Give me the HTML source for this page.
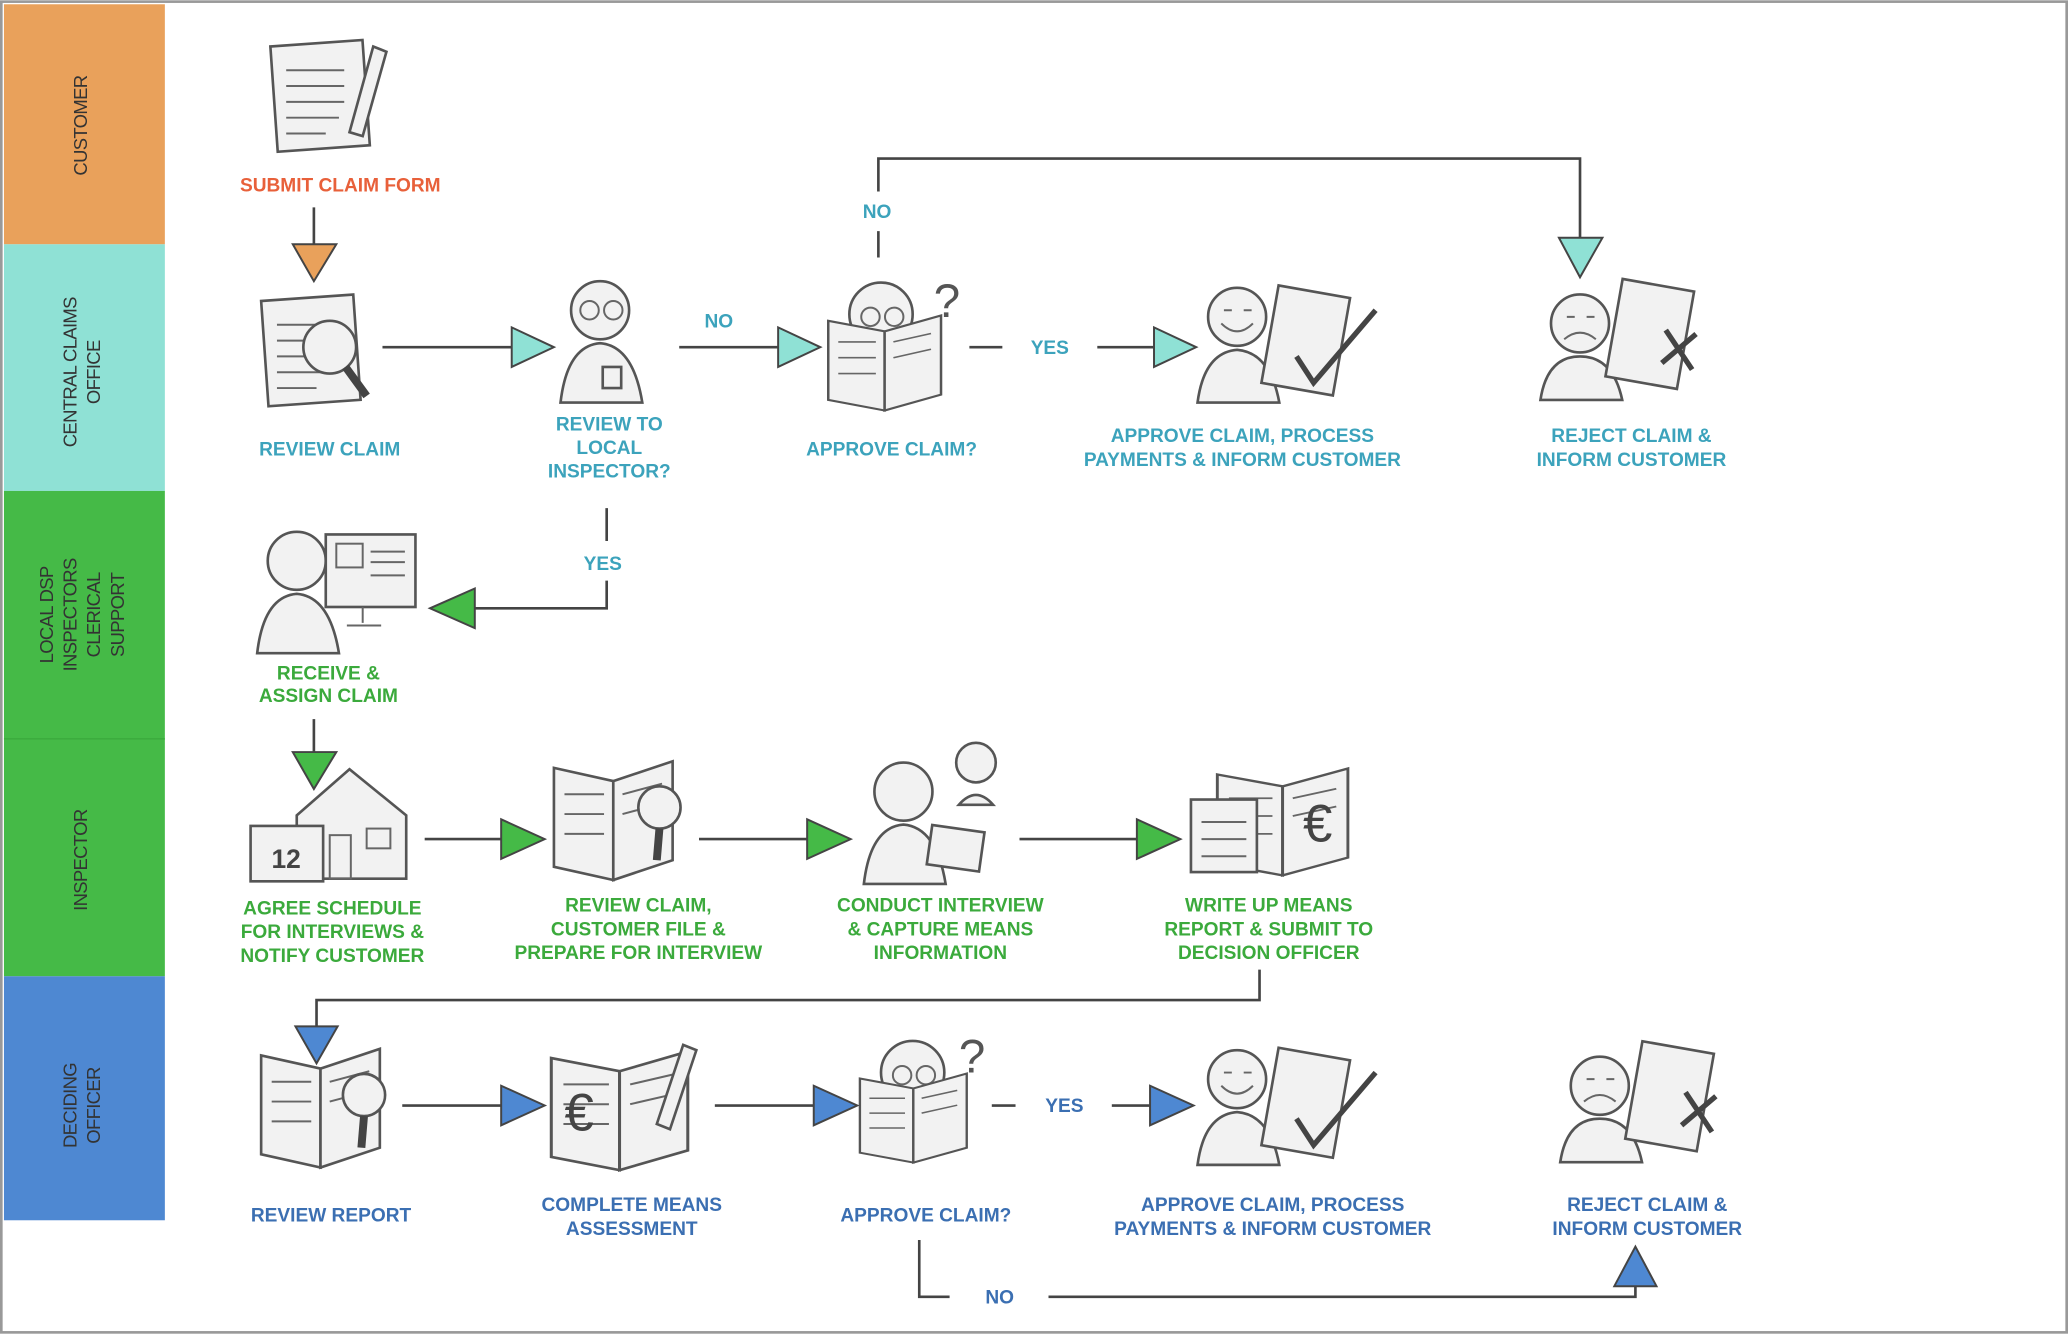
<!DOCTYPE html>
<html><head><meta charset="utf-8">
<style>
html,body{margin:0;padding:0;background:#fff;}
svg{display:block;}
text{font-family:"Liberation Sans",sans-serif;font-weight:bold;}
.t{font-size:14.5px;text-anchor:middle;}
.lane{font-size:14px;font-weight:normal;fill:#333;text-anchor:middle;letter-spacing:-0.5px;}
.ln{stroke:#444;stroke-width:2;fill:none;}
.ic{stroke:#555;stroke-width:2;fill:#f2f2f2;}
.icl{stroke:#666;stroke-width:1.5;fill:none;}
</style></head>
<body>
<svg width="2068" height="1334" viewBox="0 0 1568 1011" xmlns="http://www.w3.org/2000/svg">
<defs>
  <g id="doc"><rect class="ic" x="0" y="0" width="70" height="80" transform="rotate(-4)"/><path class="icl" d="M12 18h44M12 30h44M12 42h44M12 54h40M12 66h30"/></g>
  <g id="person"><circle class="ic" cx="30" cy="25" r="22"/><path class="ic" d="M0 95 Q5 52 30 50 Q55 52 62 95Z"/></g>
  <g id="glasses"><circle class="icl" cx="22" cy="25" r="7"/><circle class="icl" cx="40" cy="25" r="7"/></g>
  <g id="book"><path class="ic" d="M0 10 L45 20 L45 95 L0 85Z"/><path class="ic" d="M45 20 L90 5 L90 80 L45 95Z"/><path class="icl" d="M8 30h30M8 45h30M8 60h30M52 30l30-8M52 45l30-8"/></g>
  <g id="happy"><circle class="ic" cx="30" cy="25" r="22"/><path class="icl" d="M18 30 Q30 42 42 30M20 20h6M35 20h6"/><path class="ic" d="M0 90 Q5 52 30 50 Q55 52 62 90Z"/><rect class="ic" x="55" y="5" width="55" height="75" transform="rotate(10 80 40)"/><path d="M75 55 L88 75 L135 20" stroke="#444" stroke-width="4" fill="none"/></g>
  <g id="sad"><circle class="ic" cx="30" cy="30" r="22"/><path class="icl" d="M18 42 Q30 32 42 42M20 25h6M35 25h6"/><path class="ic" d="M0 88 Q5 55 30 55 Q55 55 62 88Z"/><rect class="ic" x="55" y="0" width="55" height="75" transform="rotate(10 80 40)"/><path d="M95 35 L115 65 M118 38 L92 60" stroke="#444" stroke-width="4"/></g>
</defs>

<rect x="1" y="1" width="1566" height="1009" fill="#fff" stroke="#999" stroke-width="2"/>

<!-- lanes -->
<g>
<rect x="3" y="3" width="122" height="182" fill="#E9A15B"/>
<rect x="3" y="185" width="122" height="187" fill="#8FE1D5"/>
<rect x="3" y="372" width="122" height="188" fill="#45BA47"/>
<rect x="3" y="560" width="122" height="180" fill="#45BA47"/>
<line x1="3" y1="560" x2="125" y2="560" stroke="#3aa83c" stroke-width="1"/>
<rect x="3" y="740" width="122" height="185" fill="#4E88D2"/>
<text class="lane" transform="translate(66,95) rotate(-90)">CUSTOMER</text>
<text class="lane" transform="translate(58,282) rotate(-90)">CENTRAL CLAIMS</text>
<text class="lane" transform="translate(76,282) rotate(-90)">OFFICE</text>
<text class="lane" transform="translate(40,466) rotate(-90)">LOCAL DSP</text>
<text class="lane" transform="translate(58,466) rotate(-90)">INSPECTORS</text>
<text class="lane" transform="translate(76,466) rotate(-90)">CLERICAL</text>
<text class="lane" transform="translate(94,466) rotate(-90)">SUPPORT</text>
<text class="lane" transform="translate(66,652) rotate(-90)">INSPECTOR</text>
<text class="lane" transform="translate(58,838) rotate(-90)">DECIDING</text>
<text class="lane" transform="translate(76,838) rotate(-90)">OFFICER</text>
</g>

<!-- icons -->
<g transform="translate(205,35)"><use href="#doc"/><path class="ic" d="M60 65 L78 0 L88 4 L70 68Z"/></g>
<g transform="translate(198,228)"><use href="#doc"/><circle class="ic" cx="52" cy="35" r="20"/><path d="M64 50 L80 72" stroke="#444" stroke-width="6"/></g>
<g transform="translate(425,210)"><use href="#person"/><use href="#glasses"/><rect class="ic" x="32" y="68" width="14" height="16"/></g>
<g transform="translate(628,210)"><circle class="ic" cx="40" cy="28" r="24"/><use href="#glasses" transform="translate(10,5)"/><use href="#book" transform="translate(0,25) scale(0.95,0.8)"/><text x="80" y="30" style="font-size:36px;fill:#555;font-weight:normal">?</text></g>
<g transform="translate(908,215)"><use href="#happy"/></g>
<g transform="translate(1168,215)"><use href="#sad"/></g>
<g transform="translate(195,400)"><use href="#person"/><rect class="ic" x="52" y="5" width="68" height="55"/><rect class="icl" x="60" y="12" width="20" height="18"/><path class="icl" d="M86 18h26M86 26h26M86 36h26M80 60v12M68 74h26"/></g>
<g transform="translate(190,578)"><path class="ic" d="M35 40 L75 5 L118 40 L118 88 L35 88Z"/><rect class="icl" x="60" y="55" width="16" height="33"/><rect class="icl" x="88" y="50" width="18" height="15"/><rect class="ic" x="0" y="48" width="55" height="42"/><text x="27" y="80" style="font-size:20px;fill:#444;text-anchor:middle">12</text></g>
<g transform="translate(420,572)"><use href="#book"/><circle class="ic" cx="80" cy="40" r="16"/><path d="M80 56 L78 80" stroke="#444" stroke-width="6"/></g>
<g transform="translate(655,560)"><use href="#person" transform="translate(0,15)"/><circle class="ic" cx="85" cy="18" r="15"/><path class="ic" d="M72 50 Q85 35 98 50Z"/><rect class="ic" x="50" y="68" width="40" height="30" transform="rotate(8 70 80)"/></g>
<g transform="translate(903,578)"><use href="#book" transform="translate(20,0) scale(1.1,0.9)"/><rect class="ic" x="0" y="28" width="50" height="55"/><path class="icl" d="M8 45h34M8 58h34M8 71h34"/><text x="85" y="60" style="font-size:40px;fill:#444;font-weight:normal">€</text></g>
<g transform="translate(198,790)"><use href="#book"/><circle class="ic" cx="78" cy="40" r="16"/><path d="M78 56 L76 80" stroke="#444" stroke-width="6"/></g>
<g transform="translate(418,792)"><use href="#book" transform="scale(1.15,1)"/><text x="10" y="65" style="font-size:40px;fill:#444;font-weight:normal">€</text><path class="ic" d="M80 60 L100 0 L110 4 L90 64Z"/></g>
<g transform="translate(652,785)"><circle class="ic" cx="40" cy="28" r="24"/><use href="#glasses" transform="translate(10,5)"/><use href="#book" transform="translate(0,25) scale(0.9,0.75)"/><text x="75" y="28" style="font-size:36px;fill:#555;font-weight:normal">?</text></g>
<g transform="translate(908,793)"><use href="#happy"/></g>
<g transform="translate(1183,793)"><use href="#sad"/></g>

<!-- connectors -->
<g>
<path class="ln" d="M238 157 V185"/>
<polygon points="222,185 255,185 238,213" fill="#E9A15B" stroke="#444" stroke-width="1.5"/>
<path class="ln" d="M290 263 H388"/><polygon points="388,248 388,278 420,263" fill="#8FE1D5" stroke="#444" stroke-width="1.5"/>
<path class="ln" d="M515 263 H590"/><polygon points="590,248 590,278 622,263" fill="#8FE1D5" stroke="#444" stroke-width="1.5"/>
<path class="ln" d="M666 195 V175 M666 145 V120 H1198 V180"/><polygon points="1182,180 1215,180 1198,210" fill="#8FE1D5" stroke="#444" stroke-width="1.5"/>
<path class="ln" d="M735 263 H760 M832 263 H875"/><polygon points="875,248 875,278 907,263" fill="#8FE1D5" stroke="#444" stroke-width="1.5"/>
<path class="ln" d="M460 385 V410 M460 440 V461 H360"/><polygon points="360,446 360,476 326,461" fill="#45BA47" stroke="#444" stroke-width="1.5"/>
<path class="ln" d="M238 545 V570"/><polygon points="222,570 255,570 238,598" fill="#45BA47" stroke="#444" stroke-width="1.5"/>
<path class="ln" d="M322 636 H380"/><polygon points="380,621 380,651 413,636" fill="#45BA47" stroke="#444" stroke-width="1.5"/>
<path class="ln" d="M530 636 H612"/><polygon points="612,621 612,651 645,636" fill="#45BA47" stroke="#444" stroke-width="1.5"/>
<path class="ln" d="M773 636 H862"/><polygon points="862,621 862,651 895,636" fill="#45BA47" stroke="#444" stroke-width="1.5"/>
<path class="ln" d="M955 735 V758 H240 V778"/><polygon points="224,778 256,778 240,806" fill="#4E88D2" stroke="#444" stroke-width="1.5"/>
<path class="ln" d="M305 838 H380"/><polygon points="380,823 380,853 413,838" fill="#4E88D2" stroke="#444" stroke-width="1.5"/>
<path class="ln" d="M542 838 H617"/><polygon points="617,823 617,853 650,838" fill="#4E88D2" stroke="#444" stroke-width="1.5"/>
<path class="ln" d="M752 838 H770 M843 838 H872"/><polygon points="872,823 872,853 905,838" fill="#4E88D2" stroke="#444" stroke-width="1.5"/>
<path class="ln" d="M697 940 V983 H720 M795 983 H1240 V975"/><polygon points="1224,975 1256,975 1240,945" fill="#4E88D2" stroke="#444" stroke-width="1.5"/>
</g>

<!-- labels -->
<g>
<text class="t" x="258" y="145" fill="#E8603A">SUBMIT CLAIM FORM</text>
<g fill="#3CA3BC">
<text class="t" x="250" y="345">REVIEW CLAIM</text>
<text class="t" x="462" y="326">REVIEW TO</text>
<text class="t" x="462" y="344">LOCAL</text>
<text class="t" x="462" y="362">INSPECTOR?</text>
<text class="t" x="545" y="248">NO</text>
<text class="t" x="665" y="165">NO</text>
<text class="t" x="676" y="345">APPROVE CLAIM?</text>
<text class="t" x="796" y="268">YES</text>
<text class="t" x="942" y="335">APPROVE CLAIM, PROCESS</text>
<text class="t" x="942" y="353">PAYMENTS &amp; INFORM CUSTOMER</text>
<text class="t" x="1237" y="335">REJECT CLAIM &amp;</text>
<text class="t" x="1237" y="353">INFORM CUSTOMER</text>
<text class="t" x="457" y="432">YES</text>
</g>
<g fill="#3BAA3C">
<text class="t" x="249" y="515">RECEIVE &amp;</text>
<text class="t" x="249" y="532">ASSIGN CLAIM</text>
<text class="t" x="252" y="693">AGREE SCHEDULE</text>
<text class="t" x="252" y="711">FOR INTERVIEWS &amp;</text>
<text class="t" x="252" y="729">NOTIFY CUSTOMER</text>
<text class="t" x="484" y="691">REVIEW CLAIM,</text>
<text class="t" x="484" y="709">CUSTOMER FILE &amp;</text>
<text class="t" x="484" y="727">PREPARE FOR INTERVIEW</text>
<text class="t" x="713" y="691">CONDUCT INTERVIEW</text>
<text class="t" x="713" y="709">&amp; CAPTURE MEANS</text>
<text class="t" x="713" y="727">INFORMATION</text>
<text class="t" x="962" y="691">WRITE UP MEANS</text>
<text class="t" x="962" y="709">REPORT &amp; SUBMIT TO</text>
<text class="t" x="962" y="727">DECISION OFFICER</text>
</g>
<g fill="#3B6FB2">
<text class="t" x="251" y="926">REVIEW REPORT</text>
<text class="t" x="479" y="918">COMPLETE MEANS</text>
<text class="t" x="479" y="936">ASSESSMENT</text>
<text class="t" x="702" y="926">APPROVE CLAIM?</text>
<text class="t" x="807" y="843">YES</text>
<text class="t" x="965" y="918">APPROVE CLAIM, PROCESS</text>
<text class="t" x="965" y="936">PAYMENTS &amp; INFORM CUSTOMER</text>
<text class="t" x="1249" y="918">REJECT CLAIM &amp;</text>
<text class="t" x="1249" y="936">INFORM CUSTOMER</text>
<text class="t" x="758" y="988">NO</text>
</g>
</g>
</svg>
</body></html>
